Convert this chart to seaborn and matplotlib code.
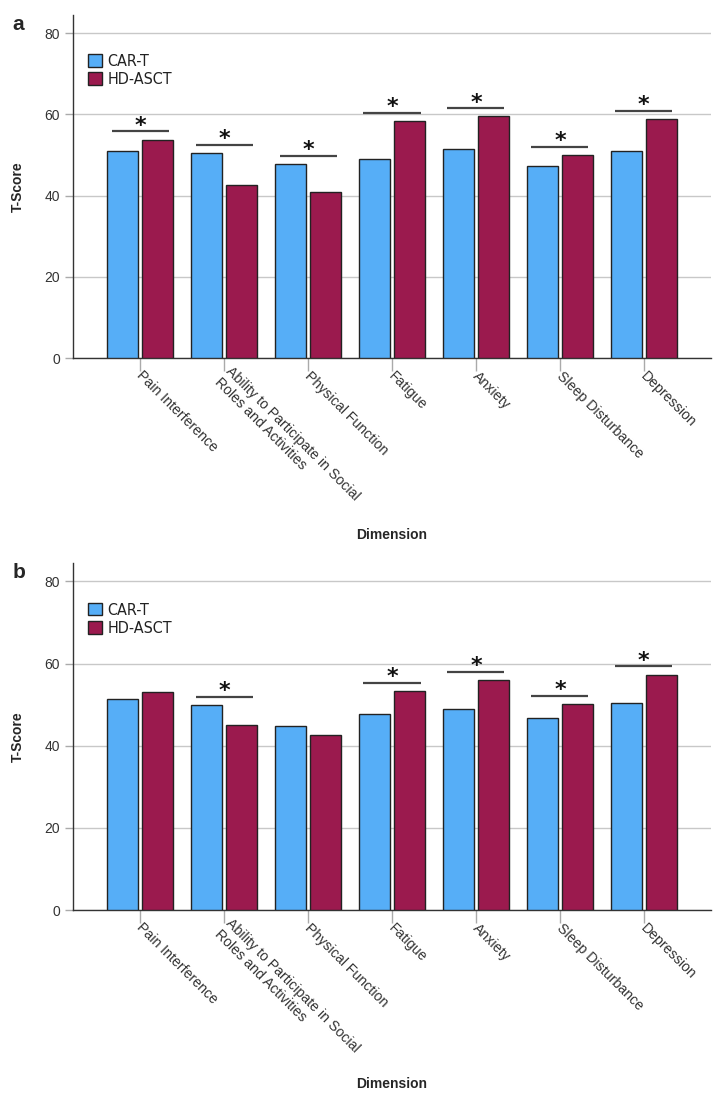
import numpy as np
import pandas as pd
import matplotlib
matplotlib.use("Agg")
import matplotlib.pyplot as plt
import seaborn as sns

# ── Data ─────────────────────────────────────────────────────
dimensions = ["Pain Interference",
              "Ability to Participate in Social\nRoles and Activities",
              "Physical Function", "Fatigue", "Anxiety",
              "Sleep Disturbance", "Depression"]
groups = ["CAR-T", "HD-ASCT"]

a_cart = [50.9, 50.4, 47.7, 49.1, 51.6, 47.2, 51.1]
a_hdasct = [53.8, 42.5, 40.8, 58.3, 59.5, 50.1, 58.8]
a_sig = [True, True, True, True, True, True, True]

b_cart = [51.4, 49.8, 44.8, 47.8, 49.0, 46.8, 50.3]
b_hdasct = [53.1, 45.0, 42.5, 53.3, 55.9, 50.1, 57.3]
b_sig = [False, True, False, True, True, True, True]

yticks = [0, 20, 40, 60, 80]

colors = {"CAR-T": "#56aef7", "HD-ASCT": "#9b1a4e"}

sns.set_theme(style="white")
plt.rcParams["font.family"] = ["Liberation Sans", "DejaVu Sans"]


def long_form(cart, hd):
    return pd.DataFrame({
        "Dimension": dimensions * 2,
        "Group": ["CAR-T"] * len(dimensions) + ["HD-ASCT"] * len(dimensions),
        "T-Score": list(cart) + list(hd),
    })


def draw_panel(ax, cart, hd, sig, letter, xlabel_y):
    df = long_form(cart, hd)
    sns.barplot(data=df, x="Dimension", y="T-Score", hue="Group",
                hue_order=groups, palette=colors, width=0.83, gap=0.1,
                edgecolor="#222222", linewidth=1.0, errorbar=None,
                saturation=1, ax=ax, zorder=3)
    ax.set_ylim(0, 84.5)
    ax.set_xlim(-0.8, 6.8)
    ax.set_yticks(yticks)
    ax.yaxis.grid(True, color="#c8c8c8", linewidth=1.0, zorder=0)
    ax.set_axisbelow(True)
    for s in ["top", "right"]:
        ax.spines[s].set_visible(False)
    for s in ["left", "bottom"]:
        ax.spines[s].set_color("#333333")
        ax.spines[s].set_linewidth(1.0)
    ax.tick_params(axis="x", length=9, width=1, color="#aaaaaa",
                   direction="out", bottom=True, pad=1.5)
    ax.tick_params(axis="y", length=6, width=1, color="#aaaaaa",
                   direction="out", left=True, labelsize=10,
                   labelcolor="#333333")
    ax.set_xticks(range(len(dimensions)))
    ax.set_xticklabels(dimensions, rotation=-45, ha="left",
                       va="center_baseline", rotation_mode="anchor",
                       fontsize=10.2, color="#333333")
    ax.set_xlabel("Dimension", fontsize=10, fontweight="bold", va="center")
    ax.xaxis.set_label_coords(0.5, xlabel_y)
    ax.set_ylabel("T-Score", fontsize=10, fontweight="bold", labelpad=14)

    # significance bars
    for i, flag in enumerate(sig):
        if not flag:
            continue
        top = max(cart[i], hd[i]) + 2.0
        ax.plot([i - 0.34, i + 0.34], [top, top], color="#444444",
                linewidth=1.6, zorder=4, solid_capstyle="butt")
        ax.annotate("*", (i, top), xytext=(0, -3), textcoords="offset points",
                    ha="center", va="bottom", fontsize=16, fontweight="bold",
                    color="#111111", family="DejaVu Sans")

    leg = ax.legend(loc="upper left", bbox_to_anchor=(0.024, 0.886),
                    frameon=False, fontsize=11.5, handlelength=0.85,
                    handleheight=0.85, handletextpad=0.35, labelspacing=0.2,
                    borderaxespad=0.0, borderpad=0.0)
    for t in leg.get_texts():
        t.set_family("DejaVu Sans")
        t.set_stretch("condensed")
        t.set_color("#222222")
    ax.text(-0.095, 1.0, letter, transform=ax.transAxes, fontsize=15,
            fontweight="bold", va="top", ha="left")


fig = plt.figure(figsize=(7.2, 11.01), dpi=100)
W, H = 720, 1101
ax_a = fig.add_axes([73 / W, (H - 358) / H, (711 - 73) / W, (358 - 15) / H])
ax_b = fig.add_axes([73 / W, (H - 910) / H, (711 - 73) / W, (910 - 563) / H])

draw_panel(ax_a, a_cart, a_hdasct, a_sig, "a", -0.516)
draw_panel(ax_b, b_cart, b_hdasct, b_sig, "b", -0.501)

fig.savefig("out.png", dpi=100)
plt.close(fig)
